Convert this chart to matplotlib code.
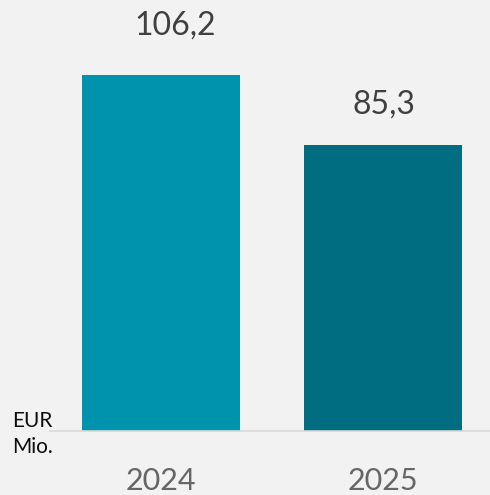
import matplotlib.pyplot as plt

plt.rcParams['font.family'] = ['Lato', 'DejaVu Sans']

years = ['2024', '2025']
values = [106.2, 85.3]
value_labels = ['106,2', '85,3']
colors = ['#0093ae', '#006e80']

fig = plt.figure(figsize=(4.90, 4.95), dpi=100, facecolor='#f2f2f2')
ax = fig.add_axes([50 / 490, 64 / 495, 444 / 490, 431 / 495])
ax.set_facecolor('#f2f2f2')

x = range(len(years))
ax.bar(x, values, width=0.716, color=colors, zorder=2)
ax.set_xlim(-0.5, 1.5)
ax.set_ylim(0, 128.6)

# value labels above bars
label_dx = [10, 1]
label_dy = [29, 23]
for i, v in enumerate(values):
    ax.annotate(value_labels[i], (i, v), xytext=(label_dx[i], label_dy[i]),
                textcoords='offset points', ha='center', va='baseline',
                fontsize=23, color='#404040')

for s in ['top', 'right', 'left']:
    ax.spines[s].set_visible(False)
ax.spines['bottom'].set_color('#d9d9d9')
ax.spines['bottom'].set_linewidth(1.2)
ax.set_yticks([])
ax.set_xticks(list(x))
ax.set_xticklabels(years, fontsize=22, color='#666666')
ax.tick_params(axis='x', length=0, pad=26)

fig.text(12 / 490, 1 - 453 / 495, 'EUR\nMio.', fontsize=15, color='#0d0d0d',
         ha='left', va='baseline', linespacing=1.35)

fig.savefig('out.png', dpi=100, facecolor=fig.get_facecolor())
